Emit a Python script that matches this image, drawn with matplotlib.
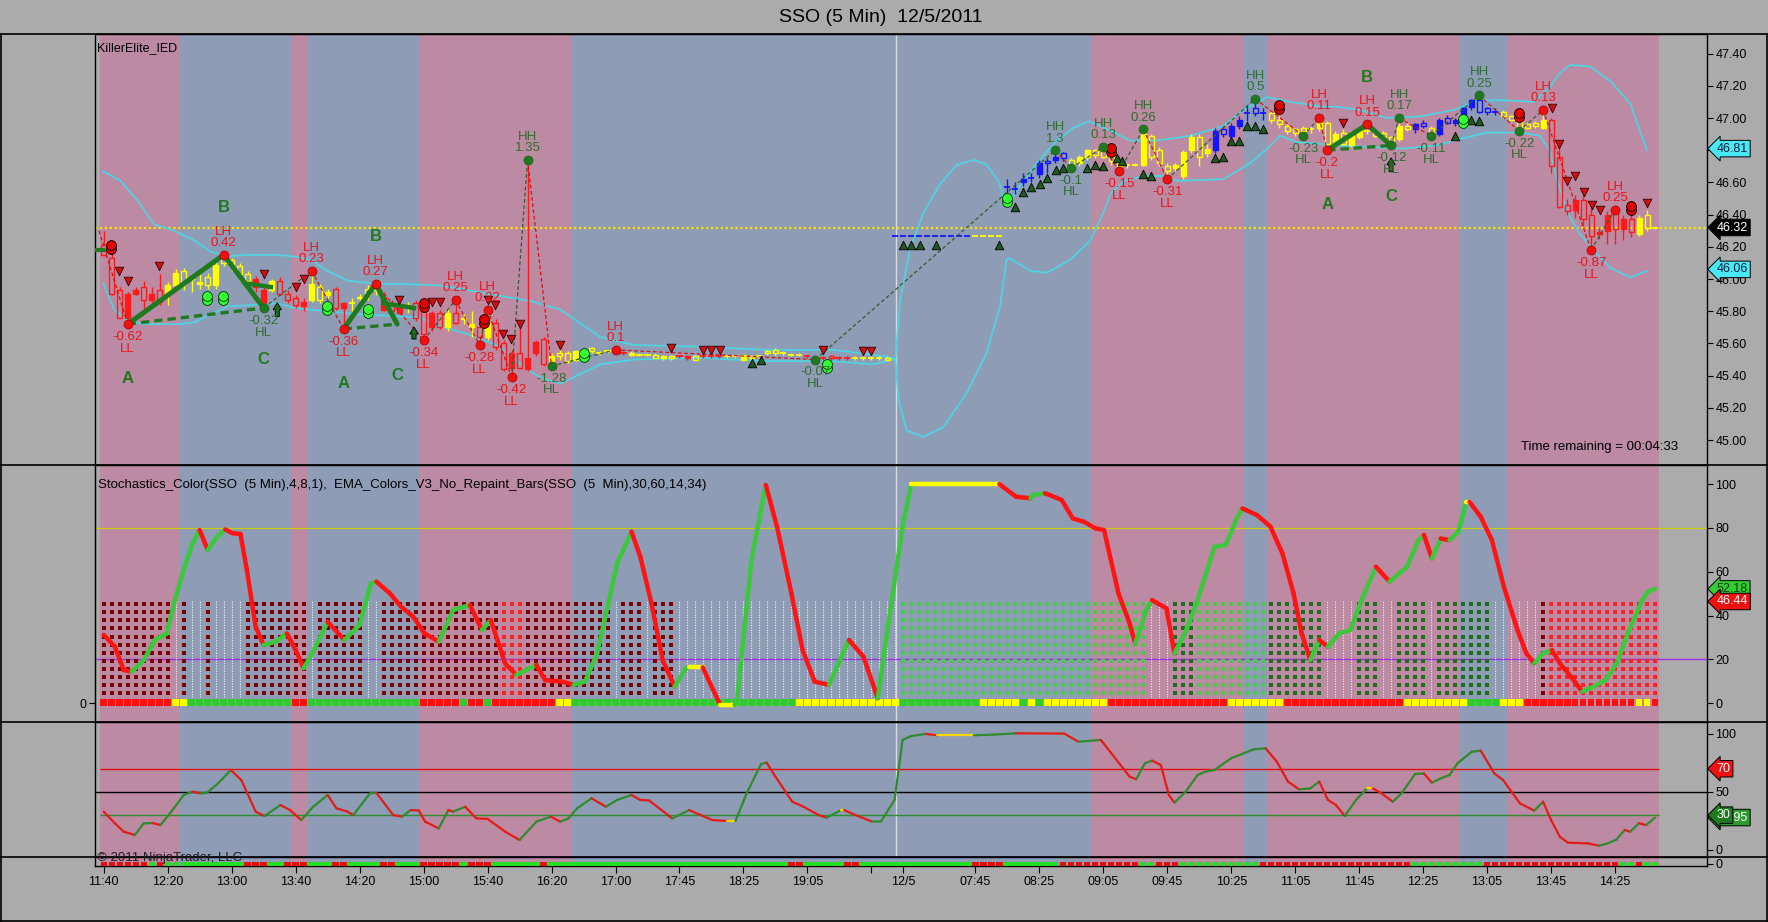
import numpy as np
import matplotlib
matplotlib.use("Agg")
import matplotlib.pyplot as plt
from matplotlib.patches import Rectangle
from matplotlib.lines import Line2D
from matplotlib.collections import LineCollection

plt.rcParams["font.family"] = ["Liberation Sans", "DejaVu Sans"]

# ---------------- price bars (bar 0 = 11:40, 5 min) ----------------
opens = [
    46.21, 46.13, 45.93, 45.76, 45.91, 45.95, 45.87, 45.93, 45.90, 45.96,
    46.05, 46.00, 45.97, 46.01, 45.96, 46.14, 46.12, 46.08, 46.03, 45.95,
    45.85, 45.93, 45.99, 45.91, 45.88, 45.83, 45.87, 45.95, 45.90, 45.94,
    45.82, 45.85, 45.89, 45.94, 45.96, 45.81, 45.85, 45.79, 45.82, 45.85,
    45.86, 45.70, 45.79, 45.70, 45.79, 45.75, 45.70, 45.70, 45.64, 45.73,
    45.60, 45.45, 45.54, 45.44, 45.54, 45.63, 45.49, 45.54, 45.54, 45.50,
    45.56, 45.57, 45.54, 45.55, 45.55, 45.54, 45.53, 45.53, 45.53, 45.53,
    45.51, 45.52, 45.52, 45.51, 45.52, 45.52, 45.52, 45.52, 45.52, 45.52,
    45.50, 45.52, 45.52, 45.55, 45.56, 45.54, 45.53, 45.53, 45.52, 45.51,
    45.51, 45.52, 45.51, 45.51, 45.51, 45.51, 45.51, 45.51, 45.51, 46.27,
    46.27, 46.27, 46.27, 46.27, 46.27, 46.27, 46.27, 46.27, 46.27, 46.27,
    46.27, 46.27, 46.27, 46.57, 46.56, 46.60, 46.63, 46.65, 46.73, 46.74,
    46.78, 46.74, 46.72, 46.76, 46.80, 46.80, 46.77, 46.70, 46.71, 46.71,
    46.71, 46.89, 46.80, 46.70, 46.69, 46.64, 46.80, 46.88, 46.78, 46.80,
    46.93, 46.89, 46.95, 47.03, 47.06, 47.03, 47.03, 46.99, 46.95, 46.93,
    46.94, 46.93, 46.94, 46.97, 46.83, 46.91, 46.83, 46.88, 46.92, 46.92,
    46.91, 46.88, 46.87, 46.95, 46.93, 46.97, 46.94, 46.90, 47.00, 46.97,
    47.02, 47.07, 47.11, 47.06, 47.04, 47.04, 47.01, 46.99, 46.96, 46.97,
    46.94, 46.99, 46.76, 46.46, 46.43, 46.49, 46.40, 46.28, 46.30, 46.41,
    46.31, 46.37, 46.28, 46.40, 46.32,
]
closes = [
    46.15, 45.91, 45.76, 45.91, 45.93, 45.87, 45.91, 45.86, 45.96, 46.04,
    45.97, 46.01, 45.98, 45.96, 46.09, 46.10, 46.08, 46.03, 45.99, 46.00,
    45.93, 45.99, 45.91, 45.87, 45.84, 45.86, 45.97, 45.87, 45.92, 45.82,
    45.85, 45.85, 45.88, 45.90, 45.93, 45.89, 45.80, 45.82, 45.82, 45.76,
    45.66, 45.79, 45.70, 45.79, 45.73, 45.76, 45.72, 45.64, 45.73, 45.58,
    45.44, 45.54, 45.45, 45.51, 45.61, 45.47, 45.52, 45.52, 45.49, 45.55,
    45.52, 45.55, 45.54, 45.55, 45.55, 45.54, 45.54, 45.53, 45.53, 45.51,
    45.52, 45.51, 45.52, 45.52, 45.50, 45.52, 45.52, 45.52, 45.52, 45.52,
    45.53, 45.51, 45.52, 45.54, 45.54, 45.54, 45.53, 45.53, 45.52, 45.51,
    45.51, 45.51, 45.51, 45.51, 45.51, 45.51, 45.51, 45.51, 45.50, 46.27,
    46.27, 46.27, 46.27, 46.27, 46.27, 46.27, 46.27, 46.27, 46.27, 46.27,
    46.27, 46.27, 46.27, 46.57, 46.56, 46.62, 46.63, 46.72, 46.72, 46.76,
    46.75, 46.70, 46.76, 46.80, 46.77, 46.76, 46.73, 46.72, 46.71, 46.71,
    46.91, 46.76, 46.72, 46.67, 46.71, 46.79, 46.88, 46.76, 46.81, 46.92,
    46.90, 46.95, 46.99, 47.03, 47.03, 47.03, 46.99, 46.96, 46.92, 46.91,
    46.92, 46.93, 46.99, 46.84, 46.90, 46.84, 46.91, 46.92, 46.92, 46.89,
    46.88, 46.85, 46.95, 46.93, 46.96, 46.95, 46.91, 46.99, 46.97, 46.99,
    47.06, 47.11, 47.04, 47.04, 47.04, 47.01, 46.99, 46.94, 46.94, 46.95,
    46.99, 46.70, 46.45, 46.42, 46.49, 46.37, 46.27, 46.29, 46.40, 46.31,
    46.37, 46.29, 46.38, 46.32, 46.32,
]
highs = [
    46.30, 46.16, 45.95, 45.92, 45.95, 45.99, 45.95, 46.03, 45.98, 46.06,
    46.07, 46.03, 46.03, 46.04, 46.12, 46.15, 46.13, 46.10, 46.05, 46.02,
    45.96, 46.00, 46.01, 45.93, 45.90, 45.88, 46.05, 45.97, 45.94, 45.95,
    45.86, 45.88, 45.91, 45.96, 45.97, 45.92, 45.87, 45.84, 45.86, 45.87,
    45.88, 45.80, 45.81, 45.82, 45.87, 45.78, 45.80, 45.73, 45.81, 45.75,
    45.62, 45.56, 45.70, 46.74, 45.62, 45.64, 45.54, 45.56, 45.55, 45.56,
    45.57, 45.58, 45.55, 45.56, 45.56, 45.55, 45.55, 45.54, 45.54, 45.54,
    45.53, 45.53, 45.53, 45.53, 45.53, 45.53, 45.53, 45.53, 45.53, 45.53,
    45.53, 45.53, 45.53, 45.56, 45.57, 45.55, 45.54, 45.54, 45.53, 45.52,
    45.52, 45.53, 45.52, 45.52, 45.52, 45.52, 45.52, 45.52, 45.52, 46.27,
    46.27, 46.27, 46.27, 46.27, 46.27, 46.27, 46.27, 46.27, 46.27, 46.27,
    46.27, 46.27, 46.27, 46.62, 46.60, 46.66, 46.66, 46.74, 46.75, 46.80,
    46.79, 46.75, 46.77, 46.81, 46.81, 46.82, 46.79, 46.74, 46.72, 46.72,
    46.93, 46.90, 46.82, 46.72, 46.72, 46.80, 46.90, 46.90, 46.84, 46.94,
    46.95, 46.97, 47.01, 47.08, 47.12, 47.06, 47.05, 47.01, 46.97, 46.94,
    46.95, 46.95, 47.00, 46.98, 46.92, 46.93, 46.92, 46.93, 46.96, 46.93,
    46.92, 46.89, 47.00, 46.97, 46.97, 46.99, 46.95, 47.00, 47.02, 47.00,
    47.07, 47.12, 47.14, 47.07, 47.06, 47.05, 47.02, 47.00, 46.97, 46.98,
    47.05, 47.00, 46.82, 46.50, 46.52, 46.52, 46.44, 46.32, 46.42, 46.43,
    46.40, 46.40, 46.40, 46.43, 46.33,
]
lows = [
    46.14, 45.90, 45.76, 45.72, 45.90, 45.81, 45.85, 45.84, 45.84, 45.93,
    45.93, 45.92, 45.94, 45.94, 45.94, 46.08, 46.05, 45.99, 45.96, 45.92,
    45.82, 45.92, 45.90, 45.85, 45.82, 45.80, 45.86, 45.85, 45.88, 45.81,
    45.69, 45.80, 45.85, 45.87, 45.90, 45.80, 45.79, 45.78, 45.79, 45.74,
    45.62, 45.68, 45.69, 45.68, 45.72, 45.72, 45.64, 45.59, 45.62, 45.56,
    45.43, 45.39, 45.44, 45.43, 45.52, 45.46, 45.46, 45.50, 45.48, 45.49,
    45.51, 45.54, 45.53, 45.54, 45.54, 45.53, 45.52, 45.52, 45.52, 45.51,
    45.50, 45.50, 45.51, 45.50, 45.50, 45.51, 45.51, 45.51, 45.51, 45.51,
    45.50, 45.50, 45.51, 45.53, 45.53, 45.53, 45.52, 45.52, 45.51, 45.50,
    45.50, 45.50, 45.50, 45.50, 45.50, 45.50, 45.50, 45.50, 45.50, 46.27,
    46.27, 46.27, 46.27, 46.27, 46.27, 46.27, 46.27, 46.27, 46.27, 46.27,
    46.27, 46.27, 46.27, 46.49, 46.53, 46.58, 46.60, 46.63, 46.66, 46.72,
    46.73, 46.69, 46.70, 46.74, 46.75, 46.75, 46.71, 46.67, 46.69, 46.70,
    46.70, 46.74, 46.70, 46.62, 46.67, 46.62, 46.78, 46.70, 46.76, 46.78,
    46.88, 46.87, 46.93, 46.98, 47.01, 46.99, 46.97, 46.94, 46.90, 46.89,
    46.89, 46.91, 46.92, 46.80, 46.82, 46.83, 46.82, 46.87, 46.90, 46.88,
    46.86, 46.83, 46.86, 46.92, 46.91, 46.94, 46.89, 46.89, 46.96, 46.95,
    47.00, 47.05, 47.03, 47.02, 47.02, 47.00, 46.98, 46.92, 46.93, 46.94,
    46.93, 46.66, 46.44, 46.40, 46.38, 46.33, 46.18, 46.25, 46.22, 46.22,
    46.24, 46.26, 46.27, 46.30, 46.31,
]
bar_colors = ("R" * 8 + "Y" * 11 + "R" * 2 + "Y" + "R" * 4 + "Y" * 3 + "R" * 2 + "Y" * 4
              + "R" * 3 + "Y" + "R" * 4 + "Y" + "R" + "Y" * 2 + "R" + "Y" + "R" * 7 + "Y" * 8
              + "R" * 2 + "Y" * 6 + "R" * 2 + "Y" + "R" * 3 + "Y" * 10 + "R" * 6 + "Y" * 5
              + "B" * 10 + "Y" * 4 + "B" * 8 + "Y" * 18 + "B" * 7 + "Y" * 18 + "B" * 2 + "Y"
              + "B" * 8 + "Y" * 6 + "R" * 11 + "Y" * 3)

# background sessions (pink / blue alternating)
band_edges = [-0.5, 9.5, 23.5, 25.5, 39.5, 58.5, 123.5, 142.5, 145.5, 169.5, 175.5, 194.5]

# envelope bands
upper_x = [-0.1, 2.1, 4.2, 6.3, 8.8, 11.3, 13.4, 15.5, 17.6, 21.7, 23.8, 25.9, 28.0, 30.5, 34.2,
           37.1, 42.1, 47.9, 53.7, 57.1, 59.2, 62.1, 66.3, 74.6, 82.9, 91.2, 96.2, 98.7, 99.0,
           99.6, 100.8, 102.5, 104.6, 106.7, 108.8, 110.4, 111.9, 112.5, 112.9, 114.2, 116.7,
           119.2, 121.3, 123.2, 125.1, 128.4, 131.7, 135.9, 140.0, 142.5, 145.5, 148.4, 152.5,
           154.2, 157.1, 160.5, 164.6, 168.8, 172.1, 175.5, 178.8, 180.8, 182.1, 183.4, 185.9,
           188.4, 190.9, 193.0]
upper_y = [46.67, 46.61, 46.49, 46.34, 46.30, 46.24, 46.17, 46.14, 46.15, 46.15, 46.14, 46.12,
           46.05, 45.99, 45.97, 45.97, 45.96, 45.91, 45.86, 45.81, 45.74, 45.64, 45.59, 45.58,
           45.56, 45.56, 45.53, 45.51, 45.50, 45.87, 46.18, 46.41, 46.59, 46.71, 46.74, 46.71,
           46.61, 46.51, 46.45, 46.55, 46.72, 46.86, 46.94, 46.98, 46.94, 46.86, 46.86, 46.89,
           46.95, 47.05, 47.13, 47.10, 47.07, 47.07, 47.05, 47.00, 47.01, 47.05, 47.11, 47.11,
           47.10, 47.19, 47.28, 47.33, 47.32, 47.23, 47.09, 46.80]
lower_x = [0.0, 1.3, 3.0, 5.0, 9.2, 11.3, 15.5, 18.8, 21.7, 23.8, 28.0, 32.1, 36.3, 39.6, 41.2,
           45.4, 49.6, 52.9, 54.6, 57.1, 58.8, 62.1, 66.3, 74.6, 82.9, 91.2, 96.2, 98.7, 99.0,
           99.4, 100.4, 102.5, 105.0, 107.9, 110.4, 112.1, 112.9, 113.3, 115.9, 118.0, 120.9,
           123.4, 125.0, 125.9, 127.6, 130.1, 132.5, 134.2, 140.0, 143.4, 145.5, 147.1, 149.2,
           152.1, 154.6, 158.4, 162.5, 166.7, 169.6, 173.0, 177.2, 179.6, 180.8, 181.7, 182.9,
           184.6, 186.7, 188.4, 190.9, 193.0]
lower_y = [45.97, 45.81, 45.74, 45.72, 45.72, 45.73, 45.83, 45.84, 45.85, 45.82, 45.80, 45.78,
           45.77, 45.76, 45.72, 45.66, 45.58, 45.44, 45.39, 45.35, 45.39, 45.47, 45.50, 45.51,
           45.49, 45.49, 45.47, 45.50, 45.50, 45.25, 45.06, 45.02, 45.08, 45.29, 45.54, 45.83,
           46.12, 46.13, 46.05, 46.04, 46.12, 46.24, 46.41, 46.53, 46.61, 46.64, 46.64, 46.61,
           46.62, 46.72, 46.81, 46.89, 46.85, 46.84, 46.83, 46.82, 46.81, 46.83, 46.87, 46.91,
           46.91, 46.89, 46.80, 46.63, 46.43, 46.28, 46.16, 46.07, 46.01, 46.05]

# swing points
swing_idx = [3, 15, 20, 26, 30, 34, 40, 44, 47, 48, 51, 53, 56, 64, 89, 119, 121, 125, 127, 130,
             133, 144, 150, 152, 153, 158, 161, 162, 166, 172, 177, 180, 186, 189]
swing_price = [45.72, 46.15, 45.82, 46.05, 45.69, 45.97, 45.62, 45.87, 45.59, 45.81, 45.39,
               46.74, 45.46, 45.56, 45.50, 46.80, 46.69, 46.82, 46.67, 46.93, 46.62, 47.12,
               46.89, 47.00, 46.80, 46.96, 46.83, 47.00, 46.89, 47.14, 46.92, 47.05, 46.18, 46.43]
swing_kind = ["LL", "LH", "HL", "LH", "LL", "LH", "LL", "LH", "LL", "LH", "LL", "HH", "HL", "LH",
              "HL", "HH", "HL", "HH", "LL", "HH", "LL", "HH", "HL", "LH", "LL", "LH", "HL", "HH",
              "HL", "HH", "HL", "LH", "LL", "LH"]
swing_value = ["-0.62", "0.42", "-0.32", "0.23", "-0.36", "0.27", "-0.34", "0.25", "-0.28",
               "0.22", "-0.42", "1.35", "-1.28", "0.1", "-0.07", "1.3", "-0.1", "0.13", "-0.15",
               "0.26", "-0.31", "0.5", "-0.23", "0.11", "-0.2", "0.15", "-0.12", "0.17", "-0.11",
               "0.25", "-0.22", "0.13", "-0.87", "0.25"]

# ABC patterns
abc_x = [[3, 15, 20], [30, 34, 36.7], [153, 158, 161]]
abc_y = [[45.72, 46.15, 45.82], [45.69, 45.97, 45.72], [46.80, 46.96, 46.83]]
hook_x = [[18.2, 20.9], [35.0, 38.8]]
hook_y = [[45.97, 45.95], [45.85, 45.82]]
arrow_x = [21.7, 38.8, 161]
arrow_lo = [45.75, 45.61, 46.65]
arrow_hi = [45.87, 45.72, 46.77]

# signal markers
down_tri = [(1.9, 46.03), (3.0, 45.97), (6.9, 46.06), (20.0, 46.01), (24.0, 45.93), (25.0, 45.98),
            (36.9, 45.85), (41.0, 45.84), (42.1, 45.84), (48.0, 45.85), (48.9, 45.82),
            (49.9, 45.64), (50.9, 45.61), (52.0, 45.70), (57.0, 45.57), (71.0, 45.55),
            (75.0, 45.54), (76.0, 45.54), (77.1, 45.54), (90.0, 45.54), (95.0, 45.53),
            (96.0, 45.53), (155.0, 46.95), (181.1, 47.04), (182.0, 46.82), (183.0, 46.59),
            (184.0, 46.62), (185.1, 46.52), (186.1, 46.44), (187.1, 46.41), (193.0, 46.45)]
up_tri = [(81.1, 45.50), (82.2, 45.52), (100.0, 46.23), (101.0, 46.23), (102.1, 46.23),
          (104.1, 46.23), (112.0, 46.23), (113.9, 46.47), (115.0, 46.56), (116.0, 46.59),
          (117.1, 46.61), (118.0, 46.65), (119.1, 46.70), (120.0, 46.71), (123.0, 46.71),
          (124.0, 46.73), (125.0, 46.72), (126.7, 46.77), (127.3, 46.75), (130.0, 46.67),
          (131.0, 46.66), (139.0, 46.77), (140.0, 46.78), (141.0, 46.88), (142.0, 46.88),
          (143.0, 46.97), (144.0, 46.97), (145.0, 46.95), (169.0, 46.91), (171.0, 47.01),
          (172.0, 47.00)]
red_dots = [(0.9, 46.20), (40.0, 45.84), (47.6, 45.74), (126.0, 46.80), (147.0, 47.07),
            (177.0, 47.02), (191.0, 46.44)]
lime_dots = [(12.9, 45.88), (14.9, 45.88), (27.9, 45.82), (33.0, 45.80), (60.0, 45.53),
             (90.4, 45.46), (113.0, 46.49), (170.0, 46.98)]

# stochastics (panel 2)
stoch_x = [0, 1.4, 2.5, 3.5, 5, 6.4, 7.9, 8.9, 10, 11.1, 12, 13, 14.2, 15.2, 16.1, 17.1, 17.9, 19,
           20, 21.5, 22.9, 24, 25, 26.2, 28, 30.1, 32, 33.4, 34.1, 35.8, 37.2, 38.7, 40.1, 41.9,
           43.7, 45.8, 47.3, 48.4, 50.2, 51.6, 54.1, 55.2, 57.3, 58.8, 60.2, 61.7, 63.1, 64.2,
           66, 67.1, 68.5, 69.9, 71.4, 72.8, 73.2, 74.9, 76.8, 77.1, 78.9, 79.2, 81, 82.8, 84.2,
           86, 87.4, 88.9, 90.7, 93.2, 95, 96.8, 98.5, 99.9, 101.0, 112.0, 114.1, 115.9, 116.2,
           117.7, 118.3, 119.8, 121.2, 122.6, 124.0, 125.1, 126.9, 128.3, 129.0, 130.4, 131.1,
           131.8, 132.9, 133.9, 135.4, 136.8, 138.9, 140.3, 141.7, 142.4, 144.2, 145.9, 147.4,
           148.8, 149.8, 150.9, 152.0, 153.1, 154.5, 155.9, 157.3, 159.1, 160.8, 163.0, 164.4,
           165.1, 166.1, 167.2, 168.3, 169.4, 170.4, 170.8, 172.2, 173.6, 175.1, 176.8, 177.9,
           178.9, 180.0, 181.1, 182.1, 183.5, 184.9, 186.3, 187.8, 189.2, 190.6, 192.4, 193.1,
           194.0]
stoch_y = [31.2, 25.8, 15.2, 14.4, 19.7, 28.9, 31.9, 47.1, 60.8, 72.9, 79.0, 69.9, 76.0, 79.3,
           77.6, 77.2, 60.8, 35.0, 26.6, 28.1, 31.9, 24.3, 16.0, 23.6, 37.2, 28.9, 35.7, 54.7,
           55.5, 50.1, 44.0, 39.5, 31.9, 28.1, 42.6, 44.8, 33.4, 38.0, 18.2, 12.9, 17.5, 10.6,
           9.9, 8.4, 9.9, 22.8, 45.6, 63.8, 78.3, 66.9, 45.6, 19.7, 7.6, 16.0, 16.4, 16.4, 1.5,
           -0.8, -0.8, 1.5, 65.3, 99.6, 80.5, 50.1, 24.3, 9.9, 8.4, 28.9, 21.3, 2.3, 45.6, 80.6,
           100, 100, 94.2, 93.5, 95.0, 95.8, 95.0, 92.7, 84.3, 82.8, 79.8, 79.0, 50.1, 36.4,
           27.3, 42.6, 47.1, 45.6, 43.3, 22.8, 33.4, 47.1, 71.4, 72.2, 84.3, 88.9, 85.9, 80.6,
           68.4, 50.1, 31.9, 19.7, 28.9, 25.8, 31.9, 33.4, 47.1, 62.3, 55.5, 62.3, 74.4, 76.8,
           66.1, 75.2, 74.4, 78.3, 91.9, 91.9, 85.1, 74.4, 53.2, 33.4, 22.8, 18.2, 22.8, 24.3,
           18.2, 12.1, 5.3, 7.6, 10.6, 18.2, 31.9, 47.1, 50.9, 52.2]
# per-bar dot columns: d dark red, r red, w white, g light green, G dark green
dot_cols = ("d" * 9 + "w" + "d" + "w" * 2 + "d" + "w" * 4 + "d" * 8 + "w" + "d" * 6 + "w" * 2
            + "d" * 15 + "r" * 3 + "d" * 11 + "w" + "d" * 3 + "w" + "d" * 3 + "w" * 28 + "g" * 31
            + "w" * 3 + "G" * 3 + "g" * 9 + "G" * 7 + "w" * 4 + "G" * 3 + "w" * 2 + "G" * 4 + "w"
            + "G" * 7 + "w" * 6 + "d" + "r" * 14)
ema_strip = ("R" * 9 + "Y" * 2 + "G" * 13 + "R" * 2 + "G" * 14 + "R" * 5 + "G" + "R" * 2 + "G"
             + "R" * 8 + "Y" * 2 + "G" * 28 + "Y" * 13 + "G" * 10 + "Y" * 5 + "G" + "Y" + "G"
             + "Y" * 8 + "R" * 15 + "Y" * 7 + "R" * 15 + "Y" * 8 + "G" * 4 + "Y" * 3 + "R" * 14
             + "Y" * 2 + "R")

# oscillator (panel 3)
osc_x = [0, 1.4, 2.5, 3.9, 5, 6.1, 7.1, 8.6, 10, 11.1, 12.1, 12.9, 14.3, 15.9, 17.2, 19, 20.1,
         22.1, 23.3, 24.7, 26.2, 28, 29.1, 30.5, 31.2, 33.3, 34.1, 36.2, 37.3, 38.4, 39.4, 40.2,
         41.9, 43.1, 43.7, 45.2, 46.6, 48, 50.2, 52, 54.1, 55.9, 57.1, 58.1, 59.2, 61, 62.8,
         64.2, 66, 67.1, 68.2, 71.1, 73.2, 76.1, 77.9, 79, 80.4, 82.2, 82.9, 84, 86.1, 87.5,
         89.4, 90.4, 92.2, 92.6, 94.0, 96.1, 97.2, 98.9, 99.9, 101, 102.8, 104.2, 108.8, 111.3,
         114.1, 120.1, 121.9, 124.7, 128.3, 129.1, 130.2, 131.1, 132.2, 133.2, 133.9, 135.3,
         136.8, 137.8, 138.9, 141, 143.8, 145.3, 146.7, 148.1, 149.5, 150.9, 152, 153.1, 154.1,
         155.2, 156.6, 158, 158.7, 159.8, 161.2, 162.3, 164, 165.1, 166.1, 167.2, 168.3, 169.3,
         171.1, 172.2, 173.9, 175, 177.1, 178.9, 180, 181, 182.1, 183.1, 185.6, 187, 188.1,
         189.2, 190.2, 190.9, 192, 192.9, 194]
osc_y = [33, 23, 15.8, 12.9, 23, 23.2, 21.5, 34.4, 47.4, 50.2, 48.8, 49.2, 57.4, 68.9, 60.3, 33,
         29.3, 38.7, 34.4, 25.8, 37.3, 47.4, 35.9, 33, 30.1, 48.8, 49.2, 30.1, 28.7, 34.4, 34.0,
         24.4, 18.6, 34.4, 33, 37.3, 27.2, 26.8, 15.8, 8.6, 24.4, 28.7, 24.4, 27.2, 35.9, 44.5,
         37.3, 43.1, 47.4, 43.1, 42.7, 27.2, 34.4, 25.8, 25, 25, 48.8, 74, 75.3, 63.2, 41.6,
         37.3, 30.1, 27.8, 34.4, 34.4, 30.1, 24.4, 24.6, 43.1, 94.8, 98.2, 100, 98.8, 98.8,
         99.4, 100.5, 100.3, 93.3, 94.8, 63.2, 60.9, 74.7, 77, 73.2, 47.4, 40.8, 50.2, 64.6,
         67.5, 68.9, 79, 86.7, 87.6, 76.1, 58.9, 52.2, 53.1, 58.9, 43.1, 38.7, 29.3, 43.1,
         53.1, 53.1, 48.8, 41.6, 48.8, 65.5, 65.9, 58, 61.7, 64.6, 74.7, 84.7, 85.6, 66, 60.3,
         40.2, 33.9, 41.6, 25.8, 11.4, 6.3, 5.7, 3.7, 5.7, 9.1, 17.2, 15.8, 23, 21.5, 27.9]
bottom_strip = ("R" * 6 + "G" + "R" + "G" * 10 + "R" * 3 + "G" * 2 + "R" * 3 + "G" * 3 + "R" * 2
                + "G" * 4 + "R" * 2 + "G" * 3 + "R" * 5 + "G" + "R" * 3 + "G" * 6 + "R"
                + "G" * 30 + "R" * 2 + "G" * 5 + "R" * 2 + "G" * 14 + "R" * 4 + "G" * 7 + "R" * 10
                + "G" * 2 + "R" * 3 + "G" * 10 + "R" * 19 + "G" * 9 + "R" * 17 + "G" * 2 + "R"
                + "G" * 2)

tick_pos = [0, 8, 16, 24, 32, 40, 48, 56, 64, 72, 80, 88, 96, 100, 109, 117, 125, 133, 141,
            149, 157, 165, 173, 181, 189]
tick_lab = ["11:40", "12:20", "13:00", "13:40", "14:20", "15:00", "15:40", "16:20", "17:00",
            "17:45", "18:25", "19:05", "", "12/5", "07:45", "08:25", "09:05", "09:45", "10:25",
            "11:05", "11:45", "12:25", "13:05", "13:45", "14:25"]

# ---------------- figure ----------------
W, H = 1768, 922
GRAY = "#ABABAB"
PINK = "#BC8AA2"
BLUE = "#8F9CB5"
fig = plt.figure(figsize=(W / 100, H / 100), dpi=100, facecolor=GRAY)


def pane(top, bottom):
    left, right = 94.7, 1707
    a = fig.add_axes([left / W, 1 - bottom / H, (right - left) / W, (bottom - top) / H])
    a.set_facecolor(GRAY)
    a.set_xlim(-1.13, 200.5)
    for s in a.spines.values():
        s.set_color("black")
        s.set_linewidth(1)
    a.yaxis.tick_right()
    a.tick_params(axis="y", which="both", direction="out", length=4, labelsize=9, pad=2,
                  colors="black")
    a.tick_params(axis="x", bottom=False, labelbottom=False)
    for k in range(len(band_edges) - 1):
        a.axvspan(band_edges[k], band_edges[k + 1], color=PINK if k % 2 == 0 else BLUE,
                  lw=0, zorder=0)
    return a


ax1 = pane(34.3, 465)
ax2 = pane(465, 722.3)
ax3 = pane(722.3, 857.3)
ax4 = pane(857.3, 866)
n = len(closes)
idx = np.arange(n)

# ---- panel 1 ----
ax1.set_ylim(44.845, 47.52)
ax1.set_yticks(np.round(np.arange(45.0, 47.41, 0.2), 2))
ax1.set_yticklabels([f"{v:.2f}" for v in np.arange(45.0, 47.41, 0.2)])
ax1.axvline(99.05, color="#D8D8E0", lw=1, zorder=1)
ax1.axhline(46.32, color="#FFE000", lw=1.6, ls=(0, (1, 1.2)), zorder=2)
ax1.plot(upper_x, upper_y, color="#4FD2E2", lw=1.3, zorder=3)
ax1.plot(lower_x, lower_y, color="#4FD2E2", lw=1.3, zorder=3)

cmap = {"R": "#FF1A1A", "Y": "#FFFF00", "B": "#1414FF"}
for i in range(n):
    c = cmap[bar_colors[i]]
    o, cl, hi_, lo_ = opens[i], closes[i], highs[i], lows[i]
    bot, top = min(o, cl), max(o, cl)
    if top - bot < 0.004:
        ax1.vlines(i, lo_, hi_, color=c, lw=1, zorder=4)
        ax1.hlines(bot, i - 0.38, i + 0.38, color=c, lw=1.3, zorder=5)
        continue
    ax1.vlines(i, lo_, bot, color=c, lw=1, zorder=4)
    ax1.vlines(i, top, hi_, color=c, lw=1, zorder=4)
    ax1.add_patch(Rectangle((i - 0.31, bot), 0.62, top - bot, fc=c if cl > o else "none",
                            ec=c, lw=1, zorder=5))

# zigzag
zx = [-0.6] + swing_idx
zy = [46.30] + swing_price
for k in range(len(zx) - 1):
    up = zy[k + 1] > zy[k]
    ax1.plot(zx[k:k + 2], zy[k:k + 2], color="#2E5E2E" if up else "#D81010", lw=0.9,
             ls=(0, (3, 2)), zorder=6)

# ABC
for xs, ys in zip(abc_x, abc_y):
    ax1.plot(xs, ys, color="#1F7A1F", lw=3.6, solid_capstyle="round", zorder=7)
    ax1.plot([xs[0], xs[2]], [ys[0], ys[2]], color="#1F7A1F", lw=2.4, ls=(0, (2.5, 1.5)), zorder=7)
    for lab, x, y, off in zip("ABC", xs, ys, (-39, 34, -37)):
        ax1.annotate(lab, (x, y), xytext=(0, off), textcoords="offset points", ha="center",
                     va="center", fontsize=12, fontweight="bold", color="#1F7A1F", zorder=9)
for xs, ys in zip(hook_x, hook_y):
    ax1.plot(xs, ys, color="#1F7A1F", lw=3.2, zorder=7)
for x, lo_, hi_ in zip(arrow_x, arrow_lo, arrow_hi):
    ax1.annotate("", xy=(x, hi_), xytext=(x, lo_),
                 arrowprops=dict(arrowstyle="simple,head_length=0.5,head_width=0.6,tail_width=0.3",
                                 fc="#1E6B1E", ec="black", lw=0.6), zorder=8)

ax1.plot([-0.9, -0.1], [46.18, 46.18], color="#1F7A1F", lw=3, zorder=6)

# markers
dx, dy = zip(*down_tri)
ax1.scatter(dx, np.array(dy) + 0.02, marker="v", s=38, c="#D01010", edgecolors="#300000",
            linewidths=0.6, zorder=8)
ux, uy = zip(*up_tri)
ax1.scatter(ux, np.array(uy) - 0.02, marker="^", s=38, c="#1E5A1E", edgecolors="black",
            linewidths=0.6, zorder=8)
rx, ry = zip(*red_dots)
ax1.scatter(rx, np.array(ry) - 0.012, s=50, c="#E00000", edgecolors="black", linewidths=0.6,
            zorder=8)
ax1.scatter(rx, np.array(ry) + 0.012, s=50, c="#E00000", edgecolors="black", linewidths=0.6,
            zorder=8)
lx, ly = zip(*lime_dots)
ax1.scatter(lx, np.array(ly) - 0.012, s=50, c="#33FF33", edgecolors="#003000", linewidths=0.6,
            zorder=8)
ax1.scatter(lx, np.array(ly) + 0.012, s=50, c="#33FF33", edgecolors="#003000", linewidths=0.6,
            zorder=8)

for x, y, kind, val in zip(swing_idx, swing_price, swing_kind, swing_value):
    green = kind in ("HH", "HL")
    col = "#2E6E2E" if green else "#E8141B"
    ax1.scatter([x], [y], marker="o", s=42, c="#1F7A1F" if green else "#F01010",
                edgecolors="#1F5F1F" if green else "#A00000", linewidths=0.5, zorder=9)
    if kind in ("HH", "LH"):
        ax1.annotate(f"{kind}\n{val}", (x, y), xytext=(0, 4), textcoords="offset points",
                     ha="center", va="bottom", fontsize=9.5, color=col, linespacing=0.95,
                     zorder=10)
    else:
        ax1.annotate(f"{val}\n{kind}", (x, y), xytext=(0, -5), textcoords="offset points",
                     ha="center", va="top", fontsize=9.5, color=col, linespacing=0.95,
                     zorder=10)

# ---- panel 2 ----
ax2.set_ylim(-8.66, 108.7)
ax2.set_yticks([0, 20, 40, 60, 80, 100])
ax2.axhline(80, color="#C8CC10", lw=0.9, zorder=2)
ax2.axhline(20, color="#9B30E0", lw=1, zorder=2)
ax2.axvline(99.05, color="#D8D8E0", lw=1, zorder=1)
rows = np.linspace(4.5, 45.3, 12)
dmap = {"d": "#7A0000", "r": "#FF2020", "g": "#4CC84C", "G": "#1C6E1C"}
for i, c in enumerate(dot_cols):
    if c == "w":
        ax2.vlines(i, 3, 47, colors="#F2F2F2", lw=0.8, linestyles=(0, (1, 1.3)), zorder=2)
    else:
        ax2.scatter(np.full(rows.size, i), rows, marker="s", s=6.5, c=dmap[c], lw=0, zorder=2)
smap = {"R": "#FF1010", "Y": "#FFFF00", "G": "#34C834"}
ax2.bar(idx, 3.3, bottom=-1.2, width=0.86, color=[smap[c] for c in ema_strip], lw=0, zorder=3)


def slope_lines(ax, xs, ys, up, down, flat, lw):
    pts = np.column_stack([xs, ys])
    segs = np.stack([pts[:-1], pts[1:]], axis=1)
    d = np.diff(ys)
    cols = [flat if abs(v) < 0.05 else (up if v > 0 else down) for v in d]
    ax.add_collection(LineCollection(segs, colors=cols, linewidths=lw, zorder=5,
                                     capstyle="round", joinstyle="round"))


slope_lines(ax2, stoch_x, stoch_y, "#3CC83C", "#FF1414", "#FFFF00", 3.2)

sec = ax2.secondary_yaxis("left")
sec.set_yticks([0])
sec.tick_params(labelsize=9, length=4, pad=2)

# ---- panel 3 ----
ax3.set_ylim(-6.3, 110)
ax3.set_yticks([0, 50, 100])
ax3.axvline(99.05, color="#D8D8E0", lw=1, zorder=1)
ax3.hlines(70, -0.5, 194.5, color="#E01010", lw=1, zorder=2)
ax3.hlines(30, -0.5, 194.5, color="#2E8B2E", lw=1, zorder=2)
ax3.axhline(50, color="black", lw=1, zorder=2)
slope_lines(ax3, osc_x, osc_y, "#2E8B2E", "#E41B17", "#FFD700", 1.6)

# ---- panel 4 ----
ax4.set_ylim(-0.3, 1.0)
ax4.set_yticks([0])
bmap = {"R": "#E01010", "G": "#22DD22"}
ax4.bar(idx, 0.55, bottom=-0.25, width=0.8, color=[bmap[c] for c in bottom_strip], lw=0,
        zorder=3)
ax4.set_xticks(tick_pos)
ax4.set_xticklabels(tick_lab)
ax4.tick_params(axis="x", bottom=True, labelbottom=True, length=5, labelsize=9, pad=2,
                colors="black")


# ---- right-side value tags ----
def tag(ax, y, text, fc, tc):
    ax.text(1.006, y, text, transform=ax.get_yaxis_transform(), ha="left", va="center",
            fontsize=9, color=tc, zorder=20, clip_on=False,
            bbox=dict(boxstyle="larrow,pad=0.18", fc=fc, ec="black", lw=0.7))


tag(ax1, 46.81, "46.81", "#48E8F4", "#102040")
tag(ax1, 46.32, "46.32", "black", "white")
tag(ax1, 46.06, "46.06", "#48E8F4", "#102040")
tag(ax2, 52.18, "52.18", "#32CD32", "#0A400A")
tag(ax2, 46.44, "46.44", "#F01010", "white")
tag(ax3, 70, "70", "#F01010", "white")
tag(ax3, 27.95, "27.95", "#2E9B2E", "white")
tag(ax3, 30, "30", "#1E7B1E", "white")

# ---- texts ----
fig.text(881 / W, 1 - 17 / H, "SSO (5 Min)  12/5/2011", ha="center", va="center", fontsize=14)
fig.text(97.5 / W, 1 - 47.7 / H, "KillerElite_IED", ha="left", va="center", fontsize=9)
fig.text(97.5 / W, 1 - 485 / H,
         "Stochastics_Color(SSO  (5 Min),4,8,1),  EMA_Colors_V3_No_Repaint_Bars(SSO  (5  Min),30,60,14,34)",
         ha="left", va="center", fontsize=9.5)
fig.text(1678 / W, 1 - 447 / H, "Time remaining = 00:04:33", ha="right", va="center",
         fontsize=9.5)
fig.text(97 / W, 1 - 858 / H, "\u00a9 2011 NinjaTrader, LLC", ha="left", va="center",
         fontsize=9.5, color="#202020")

# ---- frame lines ----
for yy in (34.3, 465, 722.3, 857.3, 921):
    fig.add_artist(Line2D([0, 1], [1 - yy / H] * 2, transform=fig.transFigure, color="black",
                          lw=1.2))
for xx in (0.8, W - 0.8):
    fig.add_artist(Line2D([xx / W] * 2, [1 - 921 / H, 1 - 34.3 / H], transform=fig.transFigure,
                          color="black", lw=1.2))

fig.savefig("out.png", dpi=100, facecolor=GRAY)
